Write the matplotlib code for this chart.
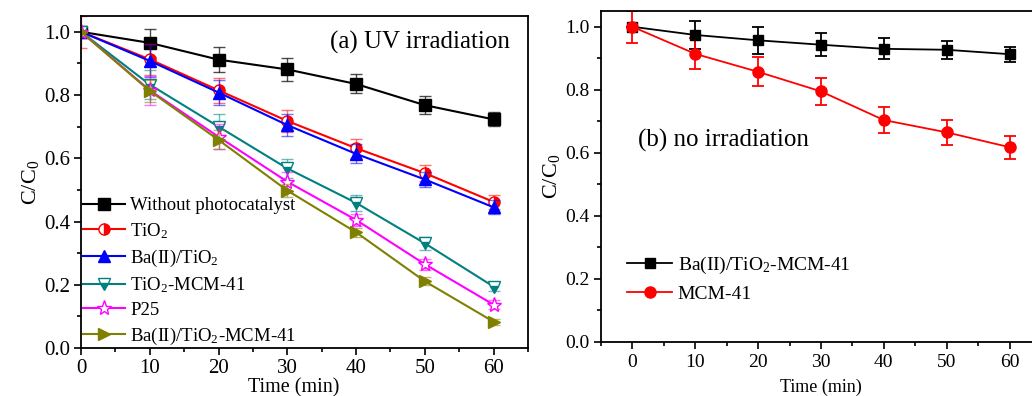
import matplotlib
matplotlib.use("Agg")
import matplotlib.pyplot as plt
from matplotlib.ticker import MultipleLocator

plt.rcParams['font.family'] = ['Liberation Serif', 'DejaVu Serif']
plt.rcParams['mathtext.fontset'] = 'custom'
plt.rcParams['mathtext.rm'] = 'Liberation Serif'
plt.rcParams['mathtext.it'] = 'Liberation Serif'

time = [0, 10, 20, 30, 40, 50, 60]

# Panel (a)
without = [1.0, 0.965, 0.912, 0.881, 0.835, 0.768, 0.723]
without_err = [0.0, 0.045, 0.04, 0.035, 0.03, 0.028, 0.022]
tio2 = [1.0, 0.913, 0.815, 0.718, 0.632, 0.553, 0.462]
tio2_err = [0.05, 0.05, 0.04, 0.035, 0.03, 0.025, 0.022]
ba_tio2 = [1.0, 0.908, 0.808, 0.705, 0.614, 0.533, 0.445]
ba_tio2_err = [0.0, 0.05, 0.04, 0.035, 0.03, 0.025, 0.022]
tio2_mcm = [1.0, 0.833, 0.700, 0.568, 0.459, 0.331, 0.194]
tio2_mcm_err = [0.0, 0.045, 0.04, 0.03, 0.025, 0.02, 0.015]
p25 = [1.0, 0.815, 0.668, 0.526, 0.405, 0.265, 0.137]
p25_err = [0.0, 0.045, 0.04, 0.03, 0.02, 0.018, 0.015]
ba_tio2_mcm = [1.0, 0.813, 0.658, 0.498, 0.366, 0.211, 0.083]
ba_tio2_mcm_err = [0.0, 0.035, 0.03, 0.02, 0.015, 0.012, 0.01]

# Panel (b)
b_ba_tio2_mcm = [1.0, 0.974, 0.957, 0.943, 0.930, 0.927, 0.913]
b_ba_tio2_mcm_err = [0.0, 0.045, 0.042, 0.036, 0.033, 0.029, 0.024]
b_mcm = [1.0, 0.914, 0.857, 0.795, 0.704, 0.665, 0.618]
b_mcm_err = [0.05, 0.049, 0.046, 0.044, 0.042, 0.04, 0.037]

xticks = [0, 10, 20, 30, 40, 50, 60]
xticklabels = ['0', '10', '20', '30', '40', '50', '60']
yticks = [0, 0.2, 0.4, 0.6, 0.8, 1.0]
yticklabels = ['0.0', '0.2', '0.4', '0.6', '0.8', '1.0']

W, H = 1032, 396
fig = plt.figure(figsize=(W / 100, H / 100), dpi=100)

axa = fig.add_axes([81 / W, (H - 348) / H, (528 - 81) / W, (348 - 16) / H])
axb = fig.add_axes([601 / W, (H - 342) / H, (1041 - 601) / W, (342 - 11) / H])

teal = '#008080'
olive = '#808000'
series_a = [
    ("Without photocatalyst", without, without_err, 'k', dict(marker='s', mfc='k', mec='k', ms=8)),
    ("TiO$_2$", tio2, tio2_err, 'red', dict(marker='o', mfc='red', mec='red', fillstyle='right', markerfacecoloralt='white', ms=8)),
    ("Ba(II)/TiO$_2$", ba_tio2, ba_tio2_err, 'blue', dict(marker='^', mfc='blue', mec='blue', ms=9)),
    ("TiO$_2$-MCM-41", tio2_mcm, tio2_mcm_err, teal, dict(marker='v', mfc=teal, mec=teal, fillstyle='bottom', markerfacecoloralt='white', ms=9)),
    ("P25", p25, p25_err, 'magenta', dict(marker='*', mfc='white', mec='magenta', ms=11, mew=1)),
    ("Ba(II)/TiO$_2$-MCM-41", ba_tio2_mcm, ba_tio2_mcm_err, olive, dict(marker='>', mfc=olive, mec=olive, ms=9)),
]

handles = []
for label, y, e, c, mk in series_a:
    axa.errorbar(time, y, yerr=e, fmt='none', ecolor=c, alpha=0.55 if c != 'k' else 0.7,
                 elinewidth=1, capsize=4, capthick=1)
    h, = axa.plot(time, y, color=c, lw=1.5, label=label, **mk)
    handles.append(h)

axa.set_xlim(0, 65)
axa.set_ylim(0, 1.05)
axa.set_xticks(xticks)
axa.set_xticklabels(xticklabels)
axa.xaxis.set_minor_locator(MultipleLocator(5))
axa.set_yticks(yticks)
axa.set_yticklabels(yticklabels)
axa.yaxis.set_minor_locator(MultipleLocator(0.1))
axa.tick_params(which='major', direction='out', length=5, width=1.2, labelsize=15, pad=3)
axa.tick_params(which='minor', direction='out', length=3, width=1.2)
axa.set_xlabel("Time (min)", fontsize=14.5)
axa.xaxis.set_label_coords(0.475, -0.092)
axa.set_ylabel("C/C$_0$", fontsize=16, labelpad=2)
axa.text(0.96, 0.92, "(a) UV irradiation", transform=axa.transAxes, ha='right', va='center', fontsize=18)
axa.legend(handles=handles, loc='lower left', bbox_to_anchor=(-0.02, -0.03), frameon=False, fontsize=13.5,
           handlelength=2.2, handletextpad=0.3, labelspacing=0.36, borderaxespad=0.2)
for s in axa.spines.values():
    s.set_linewidth(1.3)

# Panel (b)
axb.errorbar(time, b_ba_tio2_mcm, yerr=b_ba_tio2_mcm_err, fmt='none', ecolor='k', elinewidth=1.3, capsize=4, capthick=1.3)
axb.errorbar(time, b_mcm, yerr=b_mcm_err, fmt='none', ecolor='red', elinewidth=1.3, capsize=4, capthick=1.3)
h1, = axb.plot(time, b_ba_tio2_mcm, color='k', lw=1.3, marker='s', ms=7, label="Ba(II)/TiO$_2$-MCM-41")
h2, = axb.plot(time, b_mcm, color='red', lw=1.3, marker='o', ms=8, label="MCM-41")
axb.set_xlim(-5, 65)
axb.set_ylim(0, 1.05)
axb.set_xticks(xticks)
axb.set_xticklabels(xticklabels)
axb.xaxis.set_minor_locator(MultipleLocator(5))
axb.set_yticks(yticks)
axb.set_yticklabels(yticklabels)
axb.yaxis.set_minor_locator(MultipleLocator(0.1))
axb.tick_params(which='major', direction='out', length=5, width=1.2, labelsize=14)
axb.tick_params(which='minor', direction='out', length=3, width=1.2)
axb.set_xlabel("Time (min)", fontsize=13, labelpad=6)
axb.set_ylabel("C/C$_0$", fontsize=16, labelpad=2)
axb.text(0.85, 0.64, "(b) no irradiation", transform=axb.transData, ha='left', va='center', fontsize=18)
axb.legend(handles=[h1, h2], loc='lower left', bbox_to_anchor=(0.02, 0.065), frameon=False, fontsize=14,
           handlelength=2.3, handletextpad=0.3, labelspacing=0.5)
for s in axb.spines.values():
    s.set_linewidth(1.3)

fig.savefig("out.png", dpi=100)
